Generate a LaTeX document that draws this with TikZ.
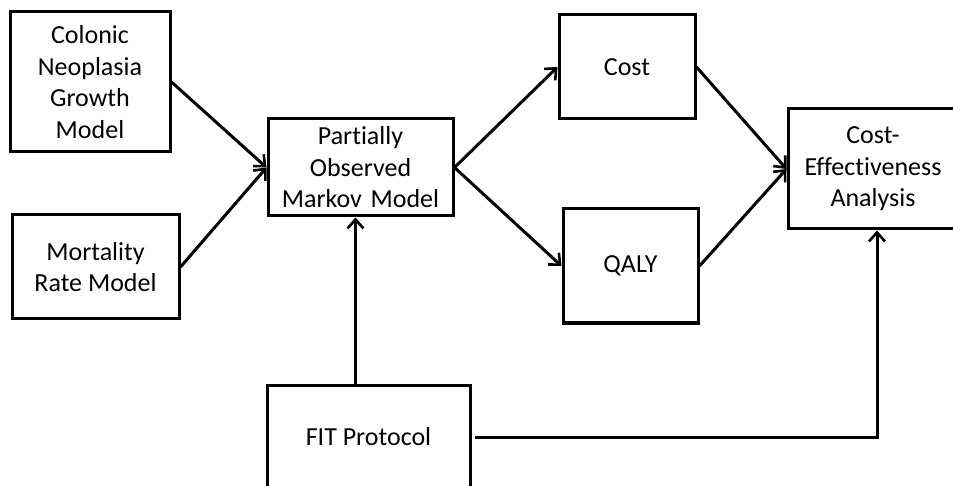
\documentclass[tikz,border=0pt]{standalone}
\usepackage{fontspec}
\setmainfont{Carlito}[Ligatures=NoCommon]
\usetikzlibrary{arrows.meta,calc}
\begin{document}
\begin{tikzpicture}[x=1pt,y=-1pt,
  box/.style={draw=black,line width=3pt,fill=white,align=center,
    inner sep=0pt,font=\fontsize{26}{31.5}\selectfont},
  arr/.style={line width=3pt,-{Straight Barb[length=9pt,width=16pt,line width=2.6pt]}}]
\useasboundingbox (0,0) rectangle (953,486);
\fill[white] (0,0) rectangle (953,486);

\node[box,minimum width=160pt,minimum height=140pt] (cng) at (90,82)
  {Colonic\\Neoplasia\\Growth\\Model};
\node[box,minimum width=167pt,minimum height=104pt] (mrm) at (95.5,267)
  {Mortality\\Rate Model};
\node[box,minimum width=185pt,minimum height=97pt] (pomm) at (360.5,167.5)
  {Partially\\Observed\\Markov\,\,Model};
\node[box,minimum width=136pt,minimum height=104pt] (cost) at (627,67)
  {Cost};
\node[box,minimum width=135pt,minimum height=114pt] (qaly) at (630.5,266)
  {QALY};
\node[box,minimum width=170pt,minimum height=120pt] (cea) at (873,169)
  {Cost-\\Effectiveness\\Analysis};
\node[box,minimum width=203pt,minimum height=104pt] (fit) at (368.5,437)
  {FIT Protocol};

\draw[arr] (cng.east) -- (pomm.west);
\draw[arr] (mrm.east) -- (pomm.west);
\draw[arr] (pomm.east) -- (cost.west);
\draw[arr] (pomm.east) -- (qaly.west);
\draw[arr] (cost.east) -- (cea.west);
\draw[arr] (qaly.east) -- (cea.west);
\draw[arr] ([xshift=-5pt]pomm.south |- fit.north) -- ([xshift=-5pt]pomm.south);
\draw[arr] ([xshift=3pt]fit.east) -| ([xshift=4pt]cea.south);
\end{tikzpicture}
\end{document}
